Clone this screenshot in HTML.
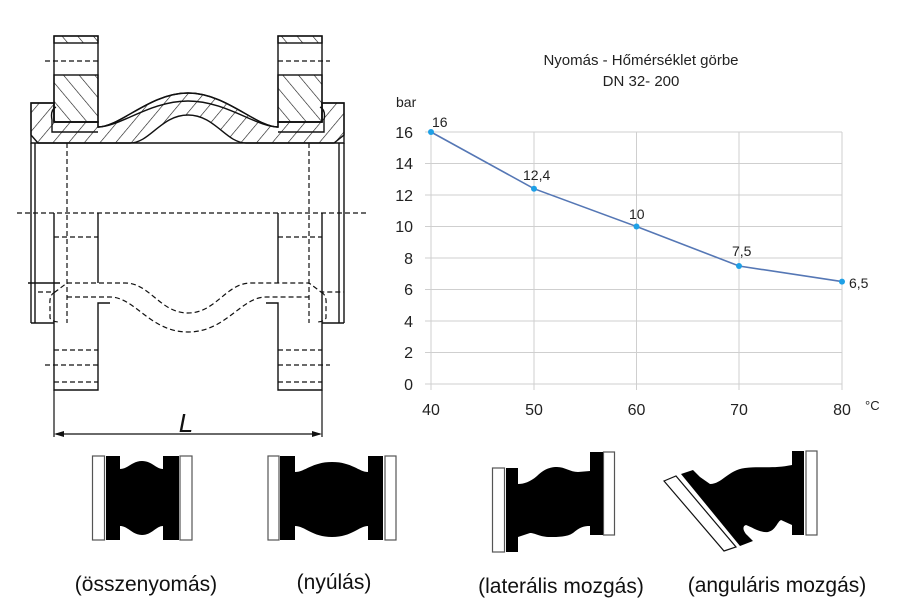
<!DOCTYPE html>
<html><head><meta charset="utf-8"><style>
html,body{margin:0;padding:0;background:#fff;}
svg{display:block;}
</style></head><body>
<svg width="900" height="600" viewBox="0 0 900 600" xmlns="http://www.w3.org/2000/svg" font-family="Liberation Sans, DejaVu Sans, sans-serif">
<defs>
<pattern id="h" width="12" height="12" patternUnits="userSpaceOnUse" patternTransform="rotate(-40)">
<line x1="0" y1="0" x2="0" y2="12" stroke="#111" stroke-width="1.2"/>
</pattern>
<pattern id="h2" width="12" height="12" patternUnits="userSpaceOnUse" patternTransform="rotate(40)">
<line x1="0" y1="0" x2="0" y2="12" stroke="#111" stroke-width="1.2"/>
</pattern>
</defs>
<rect width="900" height="600" fill="#fff"/>
<g stroke="#111" stroke-width="1.4" fill="none">
<rect x="54" y="36" width="44" height="86" fill="#fff"/>
<rect x="54" y="36" width="44" height="7" fill="url(#h)"/>
<rect x="54" y="75" width="44" height="47" fill="url(#h)"/>
<rect x="278" y="36" width="44" height="86" fill="#fff"/>
<rect x="278" y="36" width="44" height="7" fill="url(#h)"/>
<rect x="278" y="75" width="44" height="47" fill="url(#h)"/>
<path d="M31,103 H54 V122 H98 V127 C120,127 150,93 188,93 C226,93 256,127 278,127 V122 H322 V103 H344 V135 L334,143 H246 C226,143 215,115 188,115 C161,115 150,143 130,143 H38 L31,135 Z" fill="url(#h2)"/>
<path d="M31,103 H54 V122 H98 V127 C120,127 150,93 188,93 C226,93 256,127 278,127 V122 H322 V103 H344 V143 H31 Z"/>
<path d="M56,107 Q50,110 52,120 L52,132 H98 M320,107 Q326,110 324,120 L324,132 H278"/>
<path d="M98,127 C120,127 150,101 188,101 C226,101 256,127 278,127"/>
<line x1="31" y1="143" x2="31" y2="323"/><line x1="35" y1="143" x2="35" y2="323"/>
<line x1="344" y1="143" x2="344" y2="323"/><line x1="339" y1="143" x2="339" y2="323"/>
<line x1="31" y1="323" x2="54" y2="323"/><line x1="322" y1="323" x2="344" y2="323"/>
<path d="M54,213 V390 H98 V303 H110 M98,213 V283"/>
<path d="M322,213 V390 H278 V303 H266 M278,213 V283"/>
<line x1="28" y1="283" x2="60" y2="283"/>
</g>
<g stroke="#111" stroke-width="1.2" fill="none" stroke-dasharray="5,3">
<line x1="17" y1="213" x2="368" y2="213"/>
<line x1="45" y1="61" x2="98" y2="61"/><line x1="278" y1="61" x2="330" y2="61"/>
<line x1="67" y1="143" x2="67" y2="323"/><line x1="309" y1="143" x2="309" y2="323"/>
<line x1="54" y1="237" x2="98" y2="237"/><line x1="278" y1="237" x2="322" y2="237"/>
<line x1="54" y1="350" x2="98" y2="350"/><line x1="278" y1="350" x2="322" y2="350"/>
<line x1="45" y1="365" x2="98" y2="365"/><line x1="278" y1="365" x2="330" y2="365"/>
<line x1="54" y1="382" x2="98" y2="382"/><line x1="278" y1="382" x2="322" y2="382"/>
<path d="M38,292 H55 L67,283 H125 C150,283 160,313 188,313 C216,313 226,283 251,283 H309 L321,292 H344"/>
<path d="M67,297 H110 C135,297 150,332 188,332 C226,332 241,297 266,297 H309"/>
<path d="M55,292 Q49,295 50,305 V318 Q52,322 60,322 M321,292 Q327,295 326,305 V318 Q324,322 316,322"/>
</g>
<g stroke="#111" stroke-width="1.2">
<line x1="54" y1="390" x2="54" y2="437"/><line x1="322" y1="390" x2="322" y2="437"/>
<line x1="56" y1="434" x2="320" y2="434"/>
</g>
<path d="M54,434 l10,-3 v6 z M322,434 l-10,-3 v6 z" fill="#111"/>
<text x="186" y="432" font-size="26" font-style="italic" text-anchor="middle" fill="#111">L</text>

<g fill="#222">
<text x="641" y="65" font-size="15" text-anchor="middle">Nyomás - Hőmérséklet görbe</text>
<text x="641" y="86" font-size="15" text-anchor="middle">DN 32- 200</text>
<text x="396" y="107" font-size="14">bar</text>
</g>
<g stroke="#cfcfcf" stroke-width="1">
<line x1="425" y1="132" x2="842" y2="132"/><line x1="425" y1="163.5" x2="842" y2="163.5"/>
<line x1="425" y1="195" x2="842" y2="195"/><line x1="425" y1="226.5" x2="842" y2="226.5"/>
<line x1="425" y1="258" x2="842" y2="258"/><line x1="425" y1="289.5" x2="842" y2="289.5"/>
<line x1="425" y1="321" x2="842" y2="321"/><line x1="425" y1="352.5" x2="842" y2="352.5"/>
<line x1="425" y1="384" x2="842" y2="384"/>
<line x1="431" y1="132" x2="431" y2="390"/><line x1="534" y1="132" x2="534" y2="390"/>
<line x1="636.5" y1="132" x2="636.5" y2="390"/><line x1="739" y1="132" x2="739" y2="390"/>
<line x1="842" y1="132" x2="842" y2="390"/>
</g>
<g font-size="16" fill="#222" text-anchor="end">
<text x="413" y="138">16</text><text x="413" y="169">14</text><text x="413" y="201">12</text>
<text x="413" y="232">10</text><text x="413" y="264">8</text><text x="413" y="295">6</text>
<text x="413" y="327">4</text><text x="413" y="358">2</text><text x="413" y="390">0</text>
</g>
<g font-size="16" fill="#222" text-anchor="middle">
<text x="431" y="415">40</text><text x="534" y="415">50</text><text x="636.5" y="415">60</text>
<text x="739" y="415">70</text><text x="842" y="415">80</text>
</g>
<text x="865" y="410" font-size="13" fill="#222">°C</text>
<polyline points="431,132 534,188.7 636.5,226.5 739,266 842,281.6" fill="none" stroke="#5577b5" stroke-width="1.6"/>
<g fill="#1ea0e6">
<circle cx="431" cy="132" r="3"/><circle cx="534" cy="188.7" r="3"/><circle cx="636.5" cy="226.5" r="3"/>
<circle cx="739" cy="266" r="3"/><circle cx="842" cy="281.6" r="3"/>
</g>
<g font-size="14" fill="#222">
<text x="432" y="127">16</text><text x="523" y="180">12,4</text><text x="629" y="219">10</text>
<text x="732" y="256">7,5</text><text x="849" y="288">6,5</text>
</g>

<g stroke="#555" stroke-width="1.2" fill="#fff">
<rect x="92.5" y="456" width="12" height="84"/><rect x="180" y="456" width="12" height="84"/>
<rect x="268" y="456" width="11" height="84"/><rect x="385" y="456" width="11" height="84"/>
<rect x="492.5" y="468" width="12" height="84"/><rect x="603.5" y="452" width="11" height="83"/>
<rect x="806" y="451" width="11" height="84"/>
<polygon points="664,481 676,476 736,547 724,551" stroke="#111"/>
</g>
<g fill="#000">
<path d="M106,456 H120 V469 C128,469 132,461 142,461 C152,461 156,469 163,469 V456 H179 V540 H163 V526 C156,526 152,535 142,535 C132,535 128,526 120,526 V540 H106 Z"/>
<path d="M280,456 H295 V472 C305,472 312,462 332,462 C352,462 359,472 368,472 V456 H383 V540 H368 V526 C359,526 352,537 332,537 C312,537 305,526 295,526 V540 H280 Z"/>
<path d="M506,468 H518 V484 C524,484 530,482 537,476 C545,468 552,467 557,467 C565,467 570,472 578,472 L590,471 V452 H603 V535 H590 V526 C584,526 580,527 573,533 C567,537 558,537 550,537 C540,537 535,533 530,533 L518,537 V552 H506 Z"/>
<path d="M681,474 L693,470 L700,477 L710,484 C722,484 728,470 745,468 C760,466 772,469 792,465 V451 H804 V535 H792 V525 L781,520 C777,522 776,530 768,532 C760,533 752,527 746,525 C742,526 743,531 747,535 L753,541 L740,546 Z"/>
</g>
<g font-size="21" fill="#111" text-anchor="middle">
<text x="146" y="591">(összenyomás)</text>
<text x="334" y="589">(nyúlás)</text>
<text x="561" y="593">(laterális mozgás)</text>
<text x="777" y="592">(anguláris mozgás)</text>
</g>
</svg>
</body></html>
